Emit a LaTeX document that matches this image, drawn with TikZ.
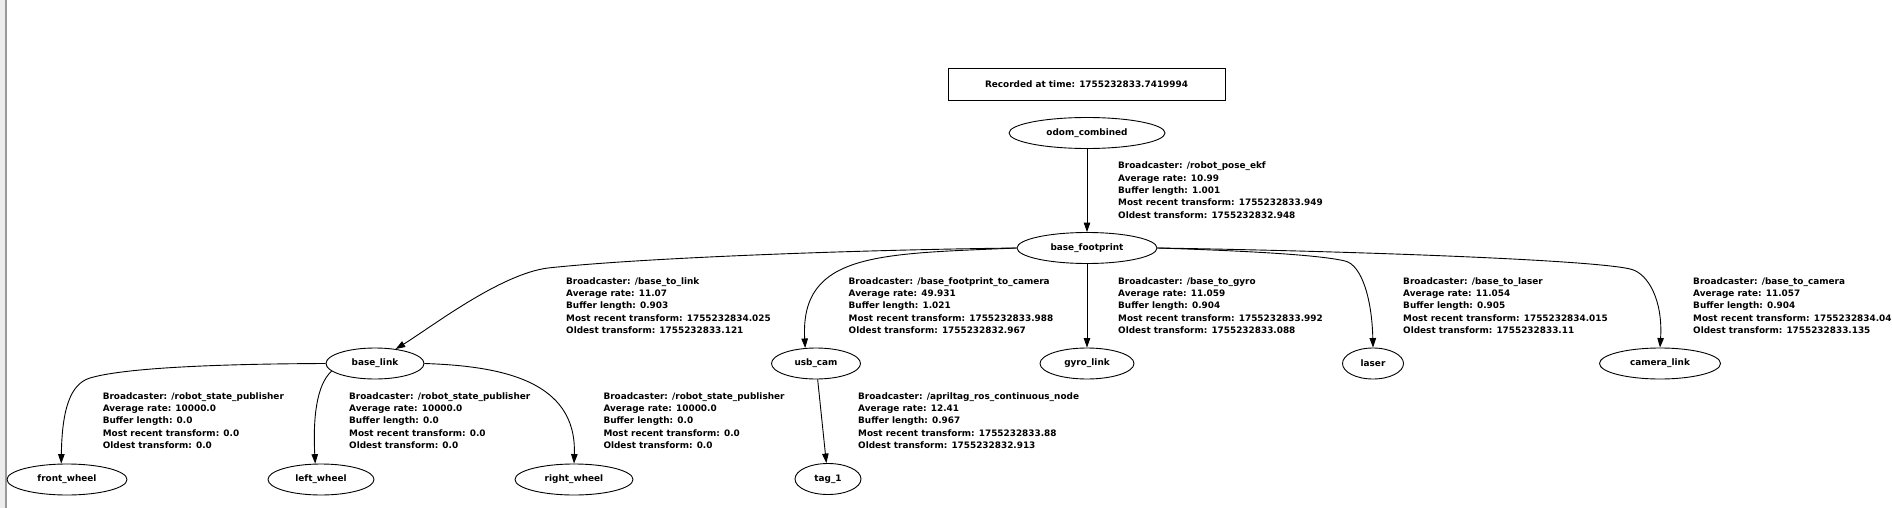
\documentclass[tikz,border=0pt]{standalone}
\usepackage{fontspec}
\newfontfamily\graphfont{DejaVu Sans}
\usetikzlibrary{shapes.geometric, arrows.meta}

\begin{document}
\begin{tikzpicture}[x=1pt, y=-1pt,
	frame/.style={ellipse, draw, line width=0.9pt, inner sep=0pt, minimum height=31pt, font=\graphfont\bfseries\fontsize{8.9}{12.4}\selectfont},
	info/.style={anchor=north west, align=left, inner sep=0pt, font=\graphfont\bfseries\fontsize{8.9}{12.4}\selectfont},
	tf/.style={line width=0.9pt, -{Triangle[length=9.5pt, width=6.5pt]}}]
	\useasboundingbox[fill=white] (0,0) rectangle (1892,508);
	\fill[black!7] (0,0) rectangle (5.5,508);
	\draw[black!40, line width=1.3pt] (6,0) -- (6,508);

	\node[draw, line width=0.9pt, minimum width=277pt, minimum height=32pt, inner sep=0pt, font=\graphfont\bfseries\fontsize{8.9}{12.4}\selectfont] (rec) at (1086.5,84.5) {Recorded at time: 1755232833.7419994};

	\node[frame, minimum width=156pt] (odom) at (1087,133) {odom\_combined};
	\node[frame, minimum width=140pt] (bf) at (1087,248) {base\_footprint};
	\node[frame, minimum width=98pt] (blink) at (375,363.5) {base\_link};
	\node[frame, minimum width=89pt] (usb) at (816,363.5) {usb\_cam};
	\node[frame, minimum width=94pt] (gyro) at (1087,363.5) {gyro\_link};
	\node[frame, minimum width=61pt] (laser) at (1373,363.5) {laser};
	\node[frame, minimum width=121pt] (cam) at (1660,363.5) {camera\_link};
	\node[frame, minimum width=120pt] (fw) at (67,479.5) {front\_wheel};
	\node[frame, minimum width=106pt] (lw) at (321,479.5) {left\_wheel};
	\node[frame, minimum width=118pt] (rw) at (574,479.5) {right\_wheel};
	\node[frame, minimum width=66pt] (tag) at (828,479) {tag\_1};

	% transforms
	\draw[tf] (odom) -- (bf);
	\draw[tf] (bf.west) .. controls (850,250) and (640,258) .. (548,268) .. controls (500,274) and (430,328) .. (blink.35);
	\draw[tf] (bf.west) .. controls (880,254) and (800,252) .. (usb.125);
	\draw[tf] (bf) -- (gyro);
	\draw[tf] (bf.east) .. controls (1250,251) and (1320,255) .. (1345,261) .. controls (1362,265) and (1372,300) .. (laser.north);
	\draw[tf] (bf.east) .. controls (1350,251) and (1600,260) .. (1632,269.5) .. controls (1648,274.3) and (1663,300) .. (cam.north);
	\draw[tf] (blink.west) .. controls (200,364) and (120,369) .. (90,378) .. controls (70,384) and (62,410) .. (fw.110);
	\draw[tf] (blink.190) .. controls (316,385) and (313,420) .. (lw.110);
	\draw[tf] (blink.east) .. controls (500,366) and (577,380) .. (rw.north);
	\draw[tf] (usb) -- (tag);

	% edge labels
	\node[info] (lodom) at (1118,161.7) {Broadcaster: /robot\_pose\_ekf\\Average rate: 10.99\\Buffer length: 1.001\\Most recent transform: 1755232833.949\\Oldest transform: 1755232832.948};
	\node[info] (lblink) at (566,277.2) {Broadcaster: /base\_to\_link\\Average rate: 11.07\\Buffer length: 0.903\\Most recent transform: 1755232834.025\\Oldest transform: 1755232833.121};
	\node[info] (lusb) at (848.5,277.2) {Broadcaster: /base\_footprint\_to\_camera\\Average rate: 49.931\\Buffer length: 1.021\\Most recent transform: 1755232833.988\\Oldest transform: 1755232832.967};
	\node[info] (lgyro) at (1118,277.2) {Broadcaster: /base\_to\_gyro\\Average rate: 11.059\\Buffer length: 0.904\\Most recent transform: 1755232833.992\\Oldest transform: 1755232833.088};
	\node[info] (llaser) at (1403,277.2) {Broadcaster: /base\_to\_laser\\Average rate: 11.054\\Buffer length: 0.905\\Most recent transform: 1755232834.015\\Oldest transform: 1755232833.11};
	\node[info] (lcam) at (1693,277.2) {Broadcaster: /base\_to\_camera\\Average rate: 11.057\\Buffer length: 0.904\\Most recent transform: 1755232834.04\\Oldest transform: 1755232833.135};
	\node[info] (lfw) at (102.6,392.2) {Broadcaster: /robot\_state\_publisher\\Average rate: 10000.0\\Buffer length: 0.0\\Most recent transform: 0.0\\Oldest transform: 0.0};
	\node[info] (llw) at (349,392.2) {Broadcaster: /robot\_state\_publisher\\Average rate: 10000.0\\Buffer length: 0.0\\Most recent transform: 0.0\\Oldest transform: 0.0};
	\node[info] (lrw) at (603.3,392.2) {Broadcaster: /robot\_state\_publisher\\Average rate: 10000.0\\Buffer length: 0.0\\Most recent transform: 0.0\\Oldest transform: 0.0};
	\node[info] (ltag) at (858,392.2) {Broadcaster: /apriltag\_ros\_continuous\_node\\Average rate: 12.41\\Buffer length: 0.967\\Most recent transform: 1755232833.88\\Oldest transform: 1755232832.913};
\end{tikzpicture}
\end{document}
